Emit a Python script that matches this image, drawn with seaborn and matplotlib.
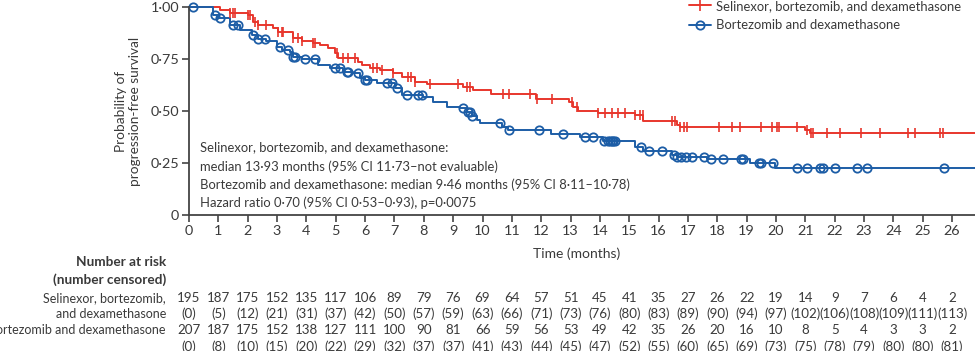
import numpy as np
import pandas as pd
import matplotlib
matplotlib.use("Agg")
import matplotlib.pyplot as plt
import matplotlib.transforms as mtransforms
from matplotlib.lines import Line2D
import seaborn as sns

# ---------------- data ----------------
red_label = "Selinexor, bortezomib, and dexamethasone"
blue_label = "Bortezomib and dexamethasone"

red_t = [0, 1.06, 1.40, 2.02, 2.19, 2.36, 2.87, 3.04, 3.55, 3.84, 4.24, 4.46, 4.75, 4.97,
         5.09, 5.77, 5.88, 6.17, 6.51, 6.96, 7.25, 7.70, 8.10, 9.35, 9.69, 10.30, 11.82,
         12.95, 13.09, 13.26, 13.95, 15.19, 15.48, 16.62, 16.73, 20.99, 21.16]
red_s = [1.0, 0.987, 0.971, 0.963, 0.931, 0.915, 0.899, 0.883, 0.851, 0.840, 0.830, 0.819,
         0.803, 0.779, 0.758, 0.739, 0.723, 0.707, 0.699, 0.683, 0.664, 0.642, 0.631, 0.615,
         0.603, 0.584, 0.560, 0.543, 0.522, 0.503, 0.491, 0.481, 0.453, 0.434, 0.426, 0.410,
         0.394]

blue_t = [0, 0.83, 1.00, 1.40, 1.73, 2.13, 2.36, 2.64, 2.99, 3.16, 3.44, 3.55, 3.84, 4.40,
          4.80, 5.26, 5.60, 5.83, 6.00, 6.40, 7.02, 7.25, 7.98, 8.33, 8.78, 9.23, 9.46, 9.63,
          9.80, 9.91, 10.65, 10.88, 12.33, 13.32, 14.10, 15.20, 15.48, 16.44, 16.61, 17.64,
          19.11, 19.97]
blue_s = [1.0, 0.963, 0.947, 0.915, 0.891, 0.867, 0.846, 0.840, 0.811, 0.795, 0.787, 0.763,
          0.750, 0.723, 0.707, 0.690, 0.682, 0.659, 0.651, 0.635, 0.611, 0.579, 0.570, 0.546,
          0.522, 0.514, 0.498, 0.477, 0.458, 0.443, 0.426, 0.410, 0.390, 0.378, 0.357, 0.330,
          0.311, 0.289, 0.279, 0.269, 0.253, 0.229]

red_cens = [1.40, 1.51, 1.57, 2.02, 2.08, 2.25, 2.36, 2.64, 3.04, 3.16, 3.21, 3.55, 3.72,
            3.84, 4.24, 4.29, 5.03, 5.26, 5.43, 5.66, 6.28, 6.40, 6.57, 6.96, 7.47, 7.58,
            7.70, 8.21, 9.18, 9.46, 9.58, 10.71, 10.91, 11.62, 11.87, 12.36, 13.04, 13.21,
            13.95, 14.17, 14.40, 14.63, 14.86, 15.20, 15.37, 15.46, 16.45, 16.56, 16.73,
            16.87, 16.96, 18.07, 18.49, 18.77, 19.48, 19.86, 20.02, 20.11, 20.70, 21.04,
            21.19, 21.27, 21.73, 22.18, 22.90, 23.54, 24.49, 24.74, 25.59, 25.70]
blue_cens = [0.15, 0.89, 1.06, 1.51, 1.68, 2.19, 2.36, 2.59, 3.10, 3.38, 3.55, 3.61, 3.95,
             4.29, 4.97, 5.15, 5.37, 5.43, 5.77, 6.00, 6.05, 6.74, 6.91, 7.08, 7.42, 7.81,
             7.93, 9.35, 9.52, 9.58, 9.63, 10.60, 10.91, 11.94, 12.73, 13.49, 13.78, 14.15,
             14.29, 14.34, 14.40, 14.46, 14.51, 15.40, 15.67, 16.10, 16.53, 16.61, 16.78,
             16.95, 17.15, 17.55, 17.77, 18.20, 18.80, 18.89, 19.43, 19.49, 19.91, 20.73,
             21.07, 21.50, 21.61, 22.01, 22.75, 23.11, 25.74]

months = list(range(0, 27))
red_risk = [195, 187, 175, 152, 135, 117, 106, 89, 79, 76, 69, 64, 57, 51, 45, 41, 35, 27,
            26, 22, 19, 14, 9, 7, 6, 4, 2]
red_cens_n = [0, 5, 12, 21, 31, 37, 42, 50, 57, 59, 63, 66, 71, 73, 76, 80, 83, 89, 90, 94,
              97, 102, 106, 108, 109, 111, 113]
blue_risk = [207, 187, 175, 152, 138, 127, 111, 100, 90, 81, 66, 59, 56, 53, 49, 42, 35, 26,
             20, 16, 10, 8, 5, 4, 3, 3, 2]
blue_cens_n = [0, 8, 10, 15, 20, 22, 29, 32, 37, 37, 41, 43, 44, 45, 47, 52, 55, 60, 65, 69,
               73, 75, 78, 79, 80, 80, 81]

ytick_vals = [0, 0.25, 0.50, 0.75, 1.00]
ytick_labels = ["0", "0·25", "0·50", "0·75", "1·00"]

annot_lines = [
    "Selinexor, bortezomib, and dexamethasone:",
    "median 13·93 months (95% CI 11·73–not evaluable)",
    "Bortezomib and dexamethasone: median 9·46 months (95% CI 8·11–10·78)",
    "Hazard ratio 0·70 (95% CI 0·53–0·93), p=0·0075",
]

# ---------------- style ----------------
RED = "#E8362C"
BLUE = "#1C5DA6"
GREY = "#3a3a3a"
FS_TICK = 10.4
FS_TXT = 9.4
FS_TAB = 9.6
sns.set_theme(style="white")
plt.rcParams["font.family"] = ["Lato", "DejaVu Sans"]
plt.rcParams["text.color"] = GREY
plt.rcParams["axes.labelcolor"] = GREY
plt.rcParams["xtick.color"] = GREY
plt.rcParams["ytick.color"] = GREY

W, H = 975, 351
fig = plt.figure(figsize=(W / 100, H / 100), dpi=100)
x0, x1 = 189, 975
y_top, y_bot = 7.3, 215.3
ax = fig.add_axes([x0 / W, 1 - y_bot / H, (x1 - x0) / W, (y_bot - y_top) / H])

def step_at(tt, ts, ss):
    idx = np.searchsorted(ts, tt, side="right") - 1
    return np.asarray(ss)[idx]

xmax = (x1 - x0) / 29.35
for ts, ss, col in [(red_t, red_s, RED), (blue_t, blue_s, BLUE)]:
    df = pd.DataFrame({"t": list(ts) + [xmax], "s": list(ss) + [ss[-1]]})
    sns.lineplot(data=df, x="t", y="s", ax=ax, color=col, lw=1.4,
                 drawstyle="steps-post", clip_on=False, estimator=None, sort=False)

rc = pd.DataFrame({"t": red_cens, "s": step_at(red_cens, red_t, red_s)})
bc = pd.DataFrame({"t": blue_cens, "s": step_at(blue_cens, blue_t, blue_s)})
ax.plot(rc["t"], rc["s"], ls="none", marker="|", ms=7, mew=1.2, color=RED, clip_on=False)
ax.plot(bc["t"], bc["s"], ls="none", marker="o", ms=6, mew=1.3, mec=BLUE, mfc="none",
        clip_on=False)

ax.set_xlim(0, xmax)
ax.set_ylim(0, 1.0)
ax.set_xticks(months)
ax.set_xticklabels([str(m) for m in months], fontsize=FS_TICK)
ax.set_yticks(ytick_vals)
ax.set_yticklabels(ytick_labels, fontsize=FS_TICK)
ax.set_xlabel("")
ax.set_ylabel("")
for sp in ["top", "right"]:
    ax.spines[sp].set_visible(False)
for sp in ["left", "bottom"]:
    ax.spines[sp].set_color("#444444")
    ax.spines[sp].set_linewidth(1.3)
ax.tick_params(axis="both", direction="out", length=5, width=1.2, color="#444444", pad=2,
               bottom=True, left=True)

fig.text(128 / W, 1 - 111 / H, "Probability of\nprogression-free survival", rotation=90,
         ha="center", va="center", fontsize=9.8, linespacing=1.2)
fig.text(577 / W, 1 - 254 / H, "Time (months)", ha="center", va="center", fontsize=10)

for i, (line, yy) in enumerate(zip(annot_lines, [147, 166.5, 185, 203])):
    fig.text(200 / W, 1 - yy / H, line, ha="left", va="center", fontsize=FS_TXT)

# legend
handles = [Line2D([], [], color=RED, lw=1.4, marker="|", ms=9, mew=1.2),
           Line2D([], [], color=BLUE, lw=1.4, marker="o", ms=6, mew=1.3, mfc="none")]
fig.legend(handles, [red_label, blue_label], loc="upper left",
           bbox_to_anchor=(689 / W, 1 + 0.0 / H), frameon=False, fontsize=FS_TXT,
           handlelength=1.7, handletextpad=0.35, labelspacing=0.55, borderpad=0,
           borderaxespad=0, numpoints=1)

# number at risk table
tr = mtransforms.blended_transform_factory(ax.transData, fig.transFigure)
fig.text(166 / W, 1 - 262 / H, "Number at risk", ha="right", va="center", fontsize=9.8,
         fontweight="bold")
fig.text(166 / W, 1 - 280 / H, "(number censored)", ha="right", va="center", fontsize=9.8,
         fontweight="bold")
row_y = [298, 314, 330, 346.5]
row_lab = ["Selinexor, bortezomib,", "and dexamethasone", blue_label, ""]
for yy, lab in zip(row_y, row_lab):
    if lab:
        fig.text(166 / W, 1 - yy / H, lab, ha="right", va="center", fontsize=9.0)
for m, a, b, c, d in zip(months, red_risk, red_cens_n, blue_risk, blue_cens_n):
    for yy, s in zip(row_y, [str(a), f"({b})", str(c), f"({d})"]):
        ax.text(m, 1 - yy / H, s, transform=tr, ha="center", va="center", fontsize=FS_TAB)

fig.savefig("out.png", dpi=100)
